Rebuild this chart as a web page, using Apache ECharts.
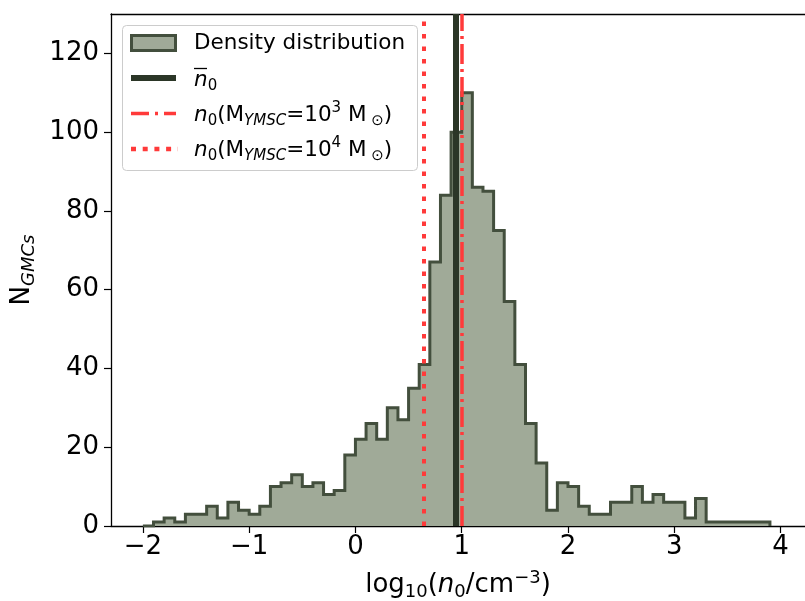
<!DOCTYPE html>
<html><head><meta charset="utf-8">
<script src="https://cdn.jsdelivr.net/npm/echarts@6/dist/echarts.min.js"></script>
<style>html,body{margin:0;padding:0;background:#fff}#c{width:805px;height:601px}</style>
</head><body><div id="c"></div>
<script>
// ---- data ----
const binStart = -2.0;
const binWidth = 0.1;
const counts = [0,1,2,1,3,3,5,2,6,4,3,5,10,11,13,10,11,8,9,18,
                22,26,22,30,27,35,41,67,84,100,110,86,85,75,57,41,26,16,4,11,
                10,5,3,3,6,6,10,6,8,6,6,2,7,1,1,1,1,1,1];
const xTicks = [-2,-1,0,1,2,3,4];
const yTicks = [0,20,40,60,80,100,120];
const meanN0 = 0.94;     // mean n0
const n0M3 = 1.0;        // n0(M=1e3)
const n0M4 = 0.64;       // n0(M=1e4)
const xRange = [-2.3, 4.23];
const yRange = [0, 130];

// ---- styles ----
const FILL = '#a0aa98';
const OUT = '#434f3d';
const DARK = '#2b3627';
const RED = '#ff3a3a';
const FONT = 'DejaVu Sans';

// outline of the histogram from bin counts
const outline = [];
counts.forEach((c, i) => {
  const a = +(binStart + i * binWidth).toFixed(4);
  const b = +(binStart + (i + 1) * binWidth).toFixed(4);
  if (i === 0) outline.push([a, 0]);
  outline.push([a, c], [b, c]);
  if (i === counts.length - 1) outline.push([b, 0]);
});

const subRich = {
  n: {fontSize: 26, fontFamily: FONT, lineHeight: 32, verticalAlign: 'middle', color: '#000'},
  it: {fontSize: 26, fontFamily: FONT, fontStyle: 'italic', lineHeight: 32, verticalAlign: 'middle', color: '#000'},
  sub: {fontSize: 18, fontFamily: FONT, lineHeight: 22, verticalAlign: 'bottom', color: '#000'},
  subit: {fontSize: 18, fontFamily: FONT, fontStyle: 'italic', lineHeight: 22, verticalAlign: 'bottom', color: '#000'},
  sup: {fontSize: 18, fontFamily: FONT, lineHeight: 20, verticalAlign: 'top', color: '#000'}
};
const legRich = {
  n: {fontSize: 21.5, fontFamily: FONT, lineHeight: 28, verticalAlign: 'middle', fill: '#000', color: '#000'},
  it: {fontSize: 21.5, fontFamily: FONT, fontStyle: 'italic', lineHeight: 28, verticalAlign: 'middle', fill: '#000', color: '#000'},
  sub: {fontSize: 15, fontFamily: FONT, lineHeight: 19, verticalAlign: 'bottom', fill: '#000', color: '#000'},
  subit: {fontSize: 15, fontFamily: FONT, fontStyle: 'italic', lineHeight: 19, verticalAlign: 'bottom', fill: '#000', color: '#000'},
  sup: {fontSize: 15, fontFamily: FONT, lineHeight: 18, verticalAlign: 'top', fill: '#000', color: '#000'}
};

const legendItems = [
  '{n|Density distribution}',
  '{it|n}{sub|0}',
  '{it|n}{sub|0}{n|(M}{subit|YMSC}{n|=10}{sup|3}{n| M}{sub| ⊙}{n|)}',
  '{it|n}{sub|0}{n|(M}{subit|YMSC}{n|=10}{sup|4}{n| M}{sub| ⊙}{n|)}'
];

const chart = echarts.init(document.getElementById('c'), null, {renderer: 'canvas'});
const axisLineStyle = {color: '#000', width: 1.3};
chart.setOption({
  animation: false,
  backgroundColor: '#fff',
  grid: {left: 111, right: 0, top: 14, bottom: 75, containLabel: false, outerBoundsMode: 'none'},
  xAxis: [{
    type: 'value', min: xRange[0], max: xRange[1], position: 'bottom',
    axisLine: {show: true, onZero: false, lineStyle: axisLineStyle},
    axisTick: {show: true, length: 7, lineStyle: {color: '#000', width: 1.2}, customValues: xTicks},
    axisLabel: {customValues: xTicks, fontSize: 26, fontFamily: FONT, color: '#000', margin: 8,
      formatter: v => String(v).replace('-', '\u2212')},
    splitLine: {show: false},
    name: '{n|log}{sub|10}{n|(}{it|n}{sub|0}{n|/cm}{sup|\u22123}{n|)}',
    nameLocation: 'middle', nameGap: 43,
    nameTextStyle: {rich: subRich}
  }, {
    type: 'value', min: xRange[0], max: xRange[1], position: 'top',
    axisLine: {show: true, onZero: false, lineStyle: axisLineStyle},
    axisTick: {show: false}, axisLabel: {show: false}, splitLine: {show: false}
  }],
  yAxis: {
    type: 'value', min: yRange[0], max: yRange[1],
    axisLine: {show: true, onZero: false, lineStyle: axisLineStyle},
    axisTick: {show: true, length: 7, lineStyle: {color: '#000', width: 1.2}, customValues: yTicks},
    axisLabel: {customValues: yTicks, fontSize: 26, fontFamily: FONT, color: '#000', margin: 12},
    splitLine: {show: false},
    name: '{n|N}{subit|GMCs}', nameLocation: 'middle', nameGap: 70, nameRotate: 90,
    nameTextStyle: {rich: subRich}
  },
  series: [{
    type: 'line', data: outline, symbol: 'none', showSymbol: false, silent: true,
    lineStyle: {color: OUT, width: 3, join: 'miter'},
    areaStyle: {color: FILL, opacity: 1},
    emphasis: {disabled: true},
    markLine: {
      symbol: ['none', 'none'], silent: true, label: {show: false}, emphasis: {disabled: true},
      animation: false,
      data: [
        {xAxis: n0M4, lineStyle: {color: RED, width: 4, type: [4.5, 8], cap: 'butt', opacity: 1}},
        {xAxis: meanN0, lineStyle: {color: DARK, width: 6, type: 'solid', opacity: 1}},
        {xAxis: n0M3, lineStyle: {color: RED, width: 3.5, type: [20, 5, 3, 5], cap: 'butt', opacity: 1}}
      ]
    }
  }],
  graphic: [
    {type: 'rect', z: 100, shape: {x: 122.5, y: 25.5, width: 295, height: 145, r: 4},
      style: {fill: 'rgba(255,255,255,0.85)', stroke: '#cccccc', lineWidth: 1}},
    {type: 'rect', z: 101, shape: {x: 131.5, y: 35.5, width: 44, height: 15},
      style: {fill: FILL, stroke: OUT, lineWidth: 3}},
    {type: 'line', z: 101, shape: {x1: 131, y1: 78, x2: 176, y2: 78},
      style: {stroke: DARK, lineWidth: 6}},
    {type: 'line', z: 101, shape: {x1: 131, y1: 113.5, x2: 176, y2: 113.5},
      style: {stroke: RED, lineWidth: 3.5, lineDash: [18, 6, 3, 6]}},
    {type: 'line', z: 101, shape: {x1: 131, y1: 149, x2: 178, y2: 149},
      style: {stroke: RED, lineWidth: 4.5, lineDash: [5, 6.7]}},
    {type: 'line', z: 101, shape: {x1: 194, y1: 68.5, x2: 207, y2: 68.5},
      style: {stroke: '#000', lineWidth: 1.3}},
    {type: 'text', z: 101, x: 194, y: 43, style: {text: legendItems[0], rich: legRich, verticalAlign: 'middle', fill: '#000', font: '21.5px "DejaVu Sans"'}},
    {type: 'text', z: 101, x: 194, y: 80, style: {text: legendItems[1], rich: legRich, verticalAlign: 'middle', fill: '#000', font: '21.5px "DejaVu Sans"'}},
    {type: 'text', z: 101, x: 194, y: 115, style: {text: legendItems[2], rich: legRich, verticalAlign: 'middle', fill: '#000', font: '21.5px "DejaVu Sans"'}},
    {type: 'text', z: 101, x: 194, y: 150, style: {text: legendItems[3], rich: legRich, verticalAlign: 'middle', fill: '#000', font: '21.5px "DejaVu Sans"'}}
  ]
});
</script></body></html>
